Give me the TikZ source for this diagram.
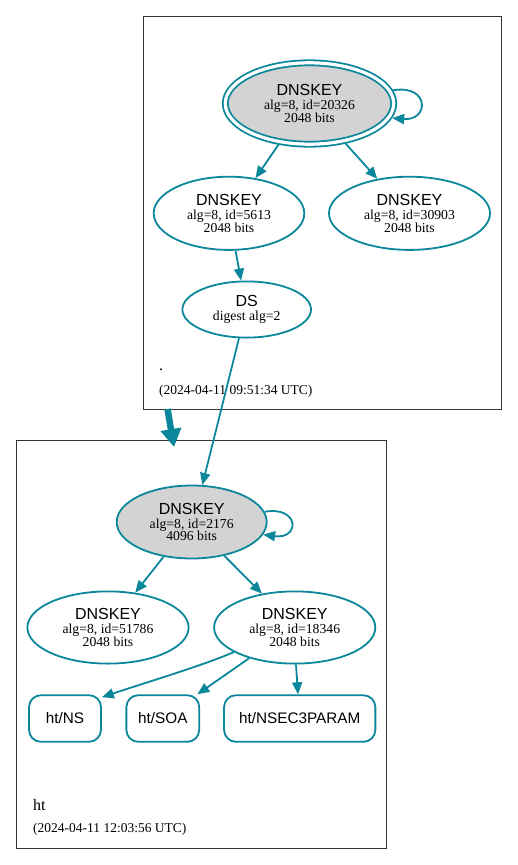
\documentclass[tikz,border=0pt]{standalone}
\usepackage{fontspec}
\setmainfont{Liberation Serif}
\setsansfont{Liberation Sans}
\usepackage{tikz}
\usetikzlibrary{shapes.geometric}
\usetikzlibrary{arrows.meta}
\definecolor{secure}{HTML}{0A879A}
\definecolor{keyfill}{HTML}{D3D3D3}

\newcommand{\keylabel}[2]{{\sffamily\fontsize{16}{16}\selectfont DNSKEY}\\[1.3pt] alg=8, id=#1\\ #2 bits}

\begin{document}
\begin{tikzpicture}[
	x=1pt,
	y=-1pt,
	key/.style={
		ellipse,
		draw=secure,
		line width=1.8pt,
		inner sep=0pt,
		align=center,
		font=\fontsize{13.7}{12.6}\selectfont
		},
	anchorkey/.style={
		fill=keyfill
	},
	rrset/.style={
		rectangle,
		rounded corners=12pt,
		draw=secure,
		line width=1.8pt,
		minimum height=46.6pt,
		inner sep=0pt,
		font=\sffamily\fontsize{15.3}{16}\selectfont
	},
	zone/.style={
		rectangle,
		draw=black!80,
		line width=0.8pt,
		inner sep=0pt
	},
	zonelabel/.style={
		anchor=base west,
		inner sep=0pt
	},
	edge/.style={
		draw=secure,
		line width=1.8pt,
		-{Triangle[length=12pt,width=10pt]}
	},
	delegation/.style={
		draw=secure,
		line width=6.5pt,
		-{Triangle[length=18pt,width=20pt]}
	}
]
\useasboundingbox (0,0) rectangle (517,865);

% Zones
\node [zone, minimum width=358pt, minimum height=393pt] (Root Zone) at (322,212.5) {};
\node [zone, minimum width=370pt, minimum height=408pt] (Ht Zone) at (201,644) {};

% Root zone
\node [key, anchorkey, double=white, double distance=3.2pt, outer sep=3.4pt,
	minimum width=168.4pt, minimum height=81.4pt] (Root KSK) at (309.5,103.5) {\keylabel{20326}{2048}};
\node [key, minimum width=150.6pt, minimum height=73.2pt] (Root ZSK) at (229,213.3) {\keylabel{5613}{2048}};
\node [key, minimum width=161pt, minimum height=73.2pt] (Root Key) at (409.5,213.3) {\keylabel{30903}{2048}};
\node [key, minimum width=128.6pt, minimum height=56.2pt] (Root DS) at (246.7,309.5) {{\sffamily\fontsize{16}{16}\selectfont DS}\\[1.3pt] digest alg=2};
\node [zonelabel, font=\fontsize{16}{16}\selectfont] (Root Name) at (159,370) {.};
\node [zonelabel, font=\fontsize{13.5}{14}\selectfont] (Root Time) at (159,394.5) {(2024-04-11 09:51:34 UTC)};

% ht zone
\node [key, anchorkey, minimum width=150pt, minimum height=73pt] (Ht KSK) at (191.7,522) {\keylabel{2176}{4096}};
\node [key, minimum width=161.2pt, minimum height=72.2pt] (Ht Key) at (108,627.5) {\keylabel{51786}{2048}};
\node [key, minimum width=161.2pt, minimum height=72.2pt] (Ht ZSK) at (294.7,627.5) {\keylabel{18346}{2048}};
\node [rrset, minimum width=72pt] (Ht NS) at (65,718.5) {ht/NS};
\node [rrset, minimum width=72.9pt] (Ht SOA) at (162.8,718.5) {ht/SOA};
\node [rrset, minimum width=151.3pt] (Ht NSEC3PARAM) at (299.7,718.5) {ht/NSEC3PARAM};
\node [zonelabel, font=\fontsize{16}{16}\selectfont] (Ht Name) at (33,810.7) {ht};
\node [zonelabel, font=\fontsize{13.5}{14}\selectfont] (Ht Time) at (33,832.5) {(2024-04-11 12:03:56 UTC)};

% Delegation
\coordinate (Root Exit) at (167.5,409);
\coordinate (Ht Entry) at (174,447);
\draw [delegation] (Root Exit) -- (Ht Entry);

% Edges
\draw [edge] (Root KSK.9) .. controls +(37,-6) and +(37,3) .. (Root KSK.-10);
\draw [edge] (Root KSK.233) -- (Root ZSK.53);
\draw [edge] (Root KSK.312) -- (Root Key.133);
\draw [edge] (Root ZSK.280) -- (Root DS.101);
\draw [edge] (Root DS.255) -- (Ht KSK.74);
\draw [edge] (Ht KSK.8.5) .. controls +(35,-6) and +(37,5) .. (Ht KSK.-10);
\draw [edge] (Ht KSK.231) -- (Ht Key.52);
\draw [edge] (Ht KSK.314) -- (Ht ZSK.134);
\draw [edge] (Ht ZSK.202) .. controls +(-30,13) and +(45,-15) .. (Ht NS.30);
\draw [edge] (Ht ZSK.214) -- (Ht SOA.35);
\draw [edge] (Ht ZSK.-88) -- (Ht NSEC3PARAM.94);
\end{tikzpicture}
\end{document}
